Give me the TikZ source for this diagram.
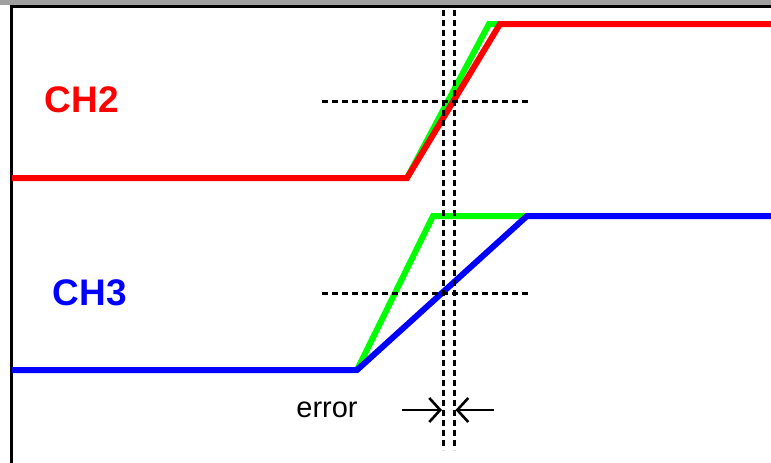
\documentclass[tikz,border=0pt]{standalone}
\usepackage{fontspec}
\setmainfont{Liberation Sans}
\usetikzlibrary{arrows.meta}
\definecolor{sigred}{RGB}{255,0,0}
\definecolor{siggreen}{RGB}{0,255,0}
\definecolor{sigblue}{RGB}{0,0,255}
\definecolor{bandgray}{RGB}{160,160,160}
\begin{document}
\begin{tikzpicture}[x=1pt,y=-1pt,
  trace/.style={line width=6pt, line join=miter},
  guide/.style={black, line width=3pt, dash pattern=on 6pt off 4pt},
  framepen/.style={black, line width=3pt},
  errarrow/.style={black, line width=2.6pt, -{Straight Barb[length=11pt,width=24pt,line width=2.6pt]}},
  label/.style={font=\bfseries\fontsize{37}{40}\selectfont, inner sep=0pt}]
\useasboundingbox (0,0) rectangle (771,463);
\fill[white] (0,0) rectangle (771,463);
\fill[bandgray] (0,0) rectangle (771,4.5);
% frame
\draw[framepen] (771,6) -- (11.5,6) -- (11.5,463);
% CH2 traces
\draw[trace, siggreen] (407,178) -- (489,24) -- (500,24);
\draw[trace, sigred] (12,178) -- (407,178) -- (500,24) -- (771,24);
% CH3 traces
\draw[trace, siggreen] (357,370) -- (433,216) -- (527,216);
\draw[trace, sigblue] (12,370) -- (357,370) -- (527,216) -- (771,216);
% guides
\draw[guide] (322,101) -- (531,101);
\draw[guide] (322,293) -- (531,293);
\draw[guide] (443.5,10) -- (443.5,450);
\draw[guide] (454,10) -- (454,450);
% labels
\node[label, text=sigred] (ch2) at (82,100) {CH2};
\node[label, text=sigblue] (ch3) at (90,293) {CH3};
\node[font=\fontsize{29}{32}\selectfont, inner sep=0pt] (err) at (327,410) {error};
% error arrows
\coordinate (la) at (402,410);
\coordinate (lb) at (442,410);
\coordinate (ra) at (494,410);
\coordinate (rb) at (455.5,410);
\draw[errarrow] (la) -- (lb);
\draw[errarrow] (ra) -- (rb);
\end{tikzpicture}
\end{document}
